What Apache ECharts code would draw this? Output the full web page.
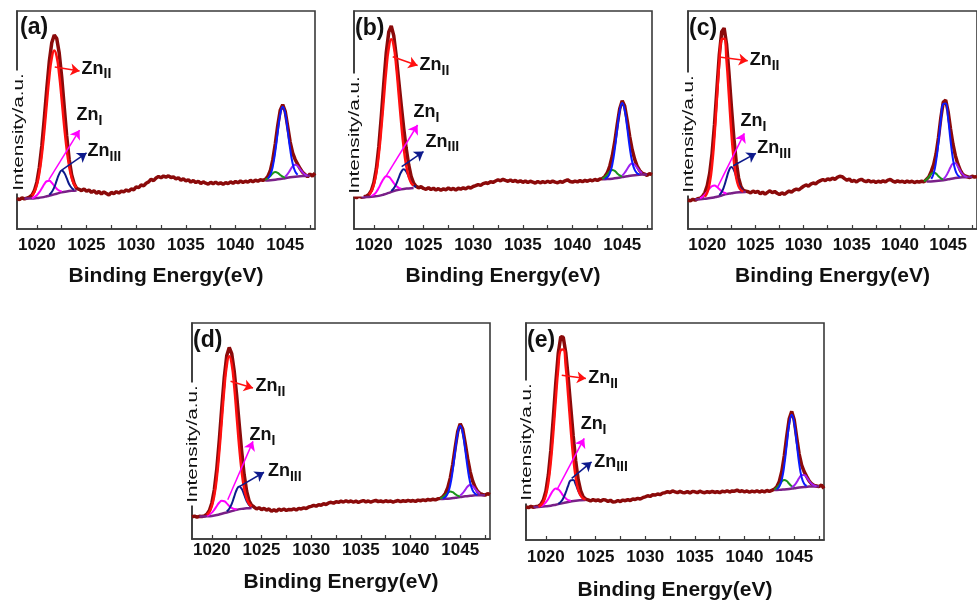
<!DOCTYPE html>
<html><head><meta charset="utf-8">
<script src="https://cdn.jsdelivr.net/npm/echarts/dist/echarts.min.js"></script>
<style>html,body{margin:0;padding:0;background:#fff}#c{width:977px;height:602px}</style>
</head><body><div id="c"></div><script>
// ---------- shared x values (Binding Energy, eV) ----------
const energy = [
1018,1018.25,1018.5,1018.75, 1019,1019.25,1019.5,1019.75, 1020,1020.25,1020.5,1020.75,
1021,1021.25,1021.5,1021.75, 1022,1022.25,1022.5,1022.75, 1023,1023.25,1023.5,1023.75,
1024,1024.25,1024.5,1024.75, 1025,1025.25,1025.5,1025.75, 1026,1026.25,1026.5,1026.75,
1027,1027.25,1027.5,1027.75, 1028,1028.25,1028.5,1028.75, 1029,1029.25,1029.5,1029.75,
1030,1030.25,1030.5,1030.75, 1031,1031.25,1031.5,1031.75, 1032,1032.25,1032.5,1032.75,
1033,1033.25,1033.5,1033.75, 1034,1034.25,1034.5,1034.75, 1035,1035.25,1035.5,1035.75,
1036,1036.25,1036.5,1036.75, 1037,1037.25,1037.5,1037.75, 1038,1038.25,1038.5,1038.75,
1039,1039.25,1039.5,1039.75, 1040,1040.25,1040.5,1040.75, 1041,1041.25,1041.5,1041.75,
1042,1042.25,1042.5,1042.75, 1043,1043.25,1043.5,1043.75, 1044,1044.25,1044.5,1044.75,
1045,1045.25,1045.5,1045.75, 1046,1046.25,1046.5,1046.75, 1047,1047.25,1047.5,1047.75, 1048];
const xLabels = [1020,1025,1030,1035,1040,1045];
const xTicks = [1020,1022.5,1025,1027.5,1030,1032.5,1035,1037.5,1040,1042.5,1045,1047.5];
const panelNames = ['(a)','(b)','(c)','(d)','(e)'];

// ---------- measured spectra (intensity, a.u.) ----------
const rawA = [14.0,13.5,14.3,13.8, 14.2,14.6,15.5,17.6, 21.5,28.3,38.2,50.8, 64.4,76.8,85.4,89.0, 87.4,80.7,69.8,56.2,
42.8,32.0,24.9,20.9, 18.6,18.2,17.6,18.4, 17.3,17.9,16.8,17.5, 16.4,17.2,16.1,17.0, 16.3,15.6,16.8,16.2,
17.1,16.5,17.4,17.0, 17.9,17.3,18.4,18.0, 19.3,19.0,20.2,19.8, 21.0,21.6,22.8,22.2, 23.4,24.1,23.5,24.3,
23.8,24.4,23.6,23.9, 23.0,23.5,22.4,23.0, 22.1,22.6,21.5,22.2, 21.3,21.9,20.9,21.6, 21.0,20.6,21.4,20.8,
21.5,20.7,21.2,20.5, 21.3,20.8,21.6,21.0, 21.8,21.2,22.0,21.4, 21.9,21.5,22.3,21.7, 22.4,21.9,22.6,22.3,
22.8,24.1,26.7,31.7, 39.0,47.5,54.5,57.0, 54.0,47.0,39.9,34.9, 31.9,29.75,27.7,26.05, 25.0,24.0,25.2,24.3, 25.6];
const rawB = [14.9,14.4,15.0,14.6, 14.8,15.1,15.9,17.7, 21.3,27.7,37.9,51.7, 66.9,81.0,90.4,93.1, 88.7,79.4,68.2,57.0,
46.4,37.1,29.6,24.1, 21.0,19.6,18.9,19.4, 18.6,18.2,18.9,18.1, 18.7,17.9,18.5,17.8, 18.4,18.0,18.8,18.1,
18.6,17.9,18.7,18.3, 18.9,18.4,19.2,18.8, 19.5,19.9,20.4,20.0, 20.8,21.2,20.9,21.7, 21.4,22.0,22.6,22.1,
22.8,22.3,21.9,22.5, 21.8,22.3,21.6,22.1, 21.4,22.0,21.3,21.9, 21.5,21.1,21.8,21.2, 21.7,21.3,21.9,21.4,
22.0,21.5,21.2,21.8, 21.4,22.1,22.6,21.8, 21.5,22.0,21.6,22.2, 21.7,22.3,21.9,22.5, 22.1,22.7,22.3,22.9,
23.1,24.05,25.8,28.9, 33.5,39.95,47.9,55.2, 58.8,56.4,49.9,42.55, 36.45,32.05,28.9,26.9, 25.65,25.2,24.6,25.4, 24.9];
const rawC = [13.3,12.9,13.6,13.2, 13.9,14.1,14.95,16.7, 19.9,25.5,34.7,47.95, 64.1,80.0,90.5,92.15, 84.9,71.6,56.4,42.2,
30.95,23.45,19.4,17.7, 17.4,17.1,16.6,17.4, 16.8,17.3,16.2,16.9, 16.0,16.8,17.5,16.7, 17.2,16.4,15.8,16.6,
15.9,16.7,17.4,16.9, 17.8,18.3,17.9,18.8, 19.6,20.2,19.7,20.6, 21.1,20.7,21.6,22.2, 22.7,22.2,23.0,22.6,
23.3,22.8,23.7,24.2, 24.0,23.1,22.4,22.9, 21.8,22.3,21.6,22.4, 22.8,22.1,21.7,22.3, 21.6,22.0,21.4,21.9,
21.5,22.1,21.6,22.4, 22.7,22.0,21.5,22.1, 21.6,21.9,21.4,22.0, 21.5,21.9,21.3,21.8, 21.5,21.9,21.6,22.75,
23.9,26.4,29.5,34.4, 41.9,51.15,58.25,59.1, 53.9,46.0,39.0,33.75, 29.95,27.1,25.2,24.3, 23.95,23.6,24.2,23.8, 24.1];
const rawD = [10.2,10.6,10.1,10.5, 10.4,10.7,11.5,13.2, 16.7,22.9,32.7,45.9, 60.9,74.9,85.0,88.7, 85.8,77.7,66.3,53.25,
40.65,29.8,22.1,17.6, 15.6,14.8,13.9,14.5, 13.6,14.2,13.4,13.9, 12.8,13.5,12.9,13.8, 13.3,13.9,13.2,13.7,
13.5,14.0,13.4,14.2, 13.9,14.4,14.1,14.8, 15.1,15.6,15.2,15.9, 15.6,16.3,16.0,16.7, 17.0,16.6,17.3,17.0,
17.5,17.1,17.7,17.2, 17.6,17.1,17.5,17.0, 17.4,17.8,17.2,17.6, 17.1,17.5,17.9,17.3, 17.6,17.2,17.7,17.3,
17.6,17.1,17.5,17.8, 17.3,17.7,17.4,17.9, 17.5,17.8,17.4,18.0, 17.7,18.1,17.8,18.3, 18.0,18.4,18.1,18.6,
18.8,19.55,21.1,23.8, 28.2,34.55,42.5,49.75, 53.4,50.9,44.45,37.2, 31.2,26.9,24.0,22.05, 21.0,20.6,20.3,21.0, 20.5];
const rawE = [15.3,14.9,15.5,15.1, 15.4,15.55,16.4,18.45, 22.5,29.9,41.4,56.4, 72.45,86.2,93.65,93.4, 86.4,74.65,61.3,48.05,
36.55,27.9,22.7,19.95, 18.85,18.5,18.0,18.6, 18.1,18.5,17.9,18.6, 18.4,17.8,18.3,17.5, 17.6,18.2,17.7,18.4,
18.1,18.6,18.2,18.9, 18.7,19.2,18.9,19.5, 19.9,20.4,20.1,20.8, 20.7,21.2,20.9,21.6, 21.8,22.3,21.9,22.6,
22.2,21.8,22.4,21.9, 21.8,22.3,21.7,22.4, 22.2,21.8,22.5,22.0, 21.8,22.3,21.9,22.4, 21.9,22.3,21.8,22.5,
22.2,22.7,22.1,22.6, 22.5,23.0,22.3,22.7, 22.2,22.6,22.0,22.5, 22.2,22.7,22.1,22.6, 22.2,22.8,22.4,22.9,
23.4,24.5,26.95,31.6, 38.75,47.8,55.9,59.25, 55.45,47.25,39.6,34.5, 31.5,29.3,27.25,25.9, 25.16,24.9,24.6,25.3, 23.8];

// ---------- fitted components [eV, intensity] ----------
const a_bg1 = [[1018.75,14.0],[1019,14.0],[1019.5,14.0],[1020,14.2],[1020.5,14.5],[1021,15.0],[1021.5,15.6],[1022,16.2],[1022.5,16.8],[1023,17.2],[1023.5,17.5],[1024,17.7]];
const a_ZnII = [[1019.5,15.3],[1019.75,17.0],[1020,20.2],[1020.25,25.7],[1020.5,34.0],[1020.75,44.9],[1021,57.5],[1021.25,69.6],[1021.5,78.4],[1021.75,81.9],[1022,79.0],[1022.25,70.8],[1022.5,59.3],[1022.75,47.2],[1023,36.7],[1023.25,28.8],[1023.5,23.5],[1023.75,20.5],[1024,19.0]];
const a_ZnI = [[1019.5,14.2],[1019.75,14.65],[1020,15.5],[1020.25,16.9],[1020.5,18.7],[1020.75,20.6],[1021,21.9],[1021.25,22.1],[1021.5,21.2],[1021.75,19.8],[1022,18.5],[1022.25,17.6],[1022.5,17.3]];
const a_ZnIII = [[1021.25,15.7],[1021.5,16.95],[1021.75,19.1],[1022,22.3],[1022.25,25.3],[1022.5,26.8],[1022.75,25.8],[1023,23.3],[1023.25,20.55],[1023.5,18.85],[1023.75,18.0]];
const a_bg2 = [[1043,22.3],[1043.5,22.4],[1044,22.6],[1044.5,22.9],[1045,23.3],[1045.5,23.7],[1046,24.0],[1046.5,24.2],[1047,24.3],[1047.5,24.4]];
const a_p2 = [[1043.25,23.15],[1043.5,24.8],[1043.75,28.7],[1044,35.5],[1044.25,44.45],[1044.5,52.6],[1044.75,56.1],[1045,53.0],[1045.25,45.2],[1045.5,36.6],[1045.75,30.05],[1046,26.4],[1046.25,24.9]];
const a_g2 = [[1043,22.6],[1043.25,23.25],[1043.5,24.3],[1043.75,25.5],[1044,26.1],[1044.25,25.75],[1044.5,24.8],[1044.75,24.0],[1045,23.6]];
const a_v2 = [[1045,24.0],[1045.25,25.3],[1045.5,27.0],[1045.75,28.7],[1046,29.5],[1046.25,28.95],[1046.5,27.5],[1046.75,26.05],[1047,25.0],[1047.25,24.55]];

const b_bg1 = [[1018.75,14.6],[1019,14.6],[1019.5,14.7],[1020,14.9],[1020.5,15.2],[1021,15.8],[1021.5,16.6],[1022,17.4],[1022.5,18.0],[1023,18.4],[1023.5,18.6],[1024,18.8]];
const b_ZnII = [[1019.5,15.8],[1019.75,17.3],[1020,20.4],[1020.25,25.7],[1020.5,34.2],[1020.75,46.0],[1021,59.6],[1021.25,73.0],[1021.5,83.0],[1021.75,87.0],[1022,83.8],[1022.25,74.5],[1022.5,61.8],[1022.75,48.7],[1023,37.4],[1023.25,29.2],[1023.5,24.1],[1023.75,21.2],[1024,19.9]];
const b_ZnI = [[1019.75,15.2],[1020,15.8],[1020.25,17.0],[1020.5,18.9],[1020.75,21.2],[1021,23.1],[1021.25,24.2],[1021.5,23.9],[1021.75,22.7],[1022,21.1],[1022.25,19.7],[1022.5,18.9],[1022.75,18.55]];
const b_ZnIII = [[1021.75,17.4],[1022,18.6],[1022.25,20.6],[1022.5,23.5],[1022.75,26.1],[1023,27.4],[1023.25,26.4],[1023.5,24.1],[1023.75,21.6],[1024,20.0],[1024.25,19.25]];
const b_bg2 = [[1043,22.8],[1043.5,22.9],[1044,23.1],[1044.5,23.4],[1045,23.8],[1045.5,24.2],[1046,24.55],[1046.5,24.8],[1047,24.95],[1047.5,25.0]];
const b_p2 = [[1043.25,23.05],[1043.5,23.7],[1043.75,25.5],[1044,29.5],[1044.25,36.55],[1044.5,45.8],[1044.75,54.2],[1045,57.8],[1045.25,54.6],[1045.5,46.6],[1045.75,37.7],[1046,30.95],[1046.25,27.2],[1046.5,25.6],[1046.75,25.1]];
const b_g2 = [[1043,23.1],[1043.25,23.85],[1043.5,25.0],[1043.75,26.4],[1044,27.1],[1044.25,26.65],[1044.5,25.5],[1044.75,24.6],[1045,24.1]];
const b_v2 = [[1045,24.5],[1045.25,25.8],[1045.5,27.5],[1045.75,29.25],[1046,30.05],[1046.25,29.55],[1046.5,28.1],[1046.75,26.7],[1047,25.65]];

const c_bg1 = [[1018.75,13.5],[1019,13.6],[1019.5,13.8],[1020,14.0],[1020.5,14.3],[1021,14.8],[1021.5,15.4],[1022,16.0],[1022.5,16.4],[1023,16.75],[1023.5,16.9],[1024,17.0]];
const c_ZnII = [[1019.75,14.8],[1020,16.7],[1020.25,21.0],[1020.5,29.3],[1020.75,42.55],[1021,59.6],[1021.25,76.3],[1021.5,87.0],[1021.75,87.3],[1022,77.2],[1022.25,61.0],[1022.5,44.4],[1022.75,31.6],[1023,23.65],[1023.25,19.55],[1023.5,17.8],[1023.75,17.2]];
const c_ZnI = [[1019.25,14.1],[1019.5,14.75],[1019.75,15.8],[1020,17.2],[1020.25,18.6],[1020.5,19.7],[1020.75,19.95],[1021,19.3],[1021.25,18.3],[1021.5,17.3],[1021.75,16.65],[1022,16.4]];
const c_ZnIII = [[1021.25,15.6],[1021.5,17.0],[1021.75,19.6],[1022,23.3],[1022.25,26.8],[1022.5,28.4],[1022.75,27.2],[1023,24.05],[1023.25,20.75],[1023.5,18.5],[1023.75,17.45]];
const c_bg2 = [[1042.75,21.75],[1043,21.8],[1043.5,21.9],[1044,22.1],[1044.5,22.4],[1045,22.8],[1045.5,23.2],[1046,23.5],[1046.5,23.7],[1047,23.8],[1047.5,23.9]];
const c_p2 = [[1043.25,23.0],[1043.5,25.5],[1043.75,31.0],[1044,39.8],[1044.25,50.15],[1044.5,57.4],[1044.75,57.6],[1045,50.7],[1045.25,40.7],[1045.5,32.2],[1045.75,26.95],[1046,24.65],[1046.25,23.9]];
const c_g2 = [[1042.5,21.8],[1042.75,22.75],[1043,23.9],[1043.25,25.25],[1043.5,25.9],[1043.75,25.4],[1044,24.2],[1044.25,23.25],[1044.5,22.7]];
const c_v2 = [[1044.5,22.95],[1044.75,24.1],[1045,26.0],[1045.25,28.3],[1045.5,30.0],[1045.75,30.15],[1046,28.8],[1046.25,26.8],[1046.5,25.2],[1046.75,24.3],[1047,23.95]];

const d_bg1 = [[1018.75,10.4],[1019,10.4],[1019.5,10.5],[1020,10.7],[1020.5,11.1],[1021,11.7],[1021.5,12.3],[1022,12.9],[1022.5,13.5],[1023,13.95],[1023.5,14.2],[1024,14.4]];
const d_ZnII = [[1019.5,11.2],[1019.75,12.5],[1020,15.2],[1020.25,20.2],[1020.5,28.5],[1020.75,40.4],[1021,54.9],[1021.25,69.4],[1021.5,80.3],[1021.75,84.6],[1022,80.9],[1022.25,70.6],[1022.5,56.7],[1022.75,42.75],[1023,31.35],[1023.25,23.4],[1023.5,18.7],[1023.75,16.2],[1024,15.1]];
const d_ZnI = [[1019.5,10.8],[1019.75,11.3],[1020,12.2],[1020.25,13.6],[1020.5,15.3],[1020.75,16.9],[1021,17.7],[1021.25,17.5],[1021.5,16.5],[1021.75,15.3],[1022,14.4],[1022.25,13.9],[1022.5,13.8]];
const d_ZnIII = [[1021.5,12.8],[1021.75,14.0],[1022,16.3],[1022.25,19.6],[1022.5,22.8],[1022.75,24.25],[1023,23.25],[1023.25,20.5],[1023.5,17.6],[1023.75,15.7],[1024,14.9]];
const d_bg2 = [[1043,18.5],[1043.5,18.6],[1044,18.8],[1044.5,19.1],[1045,19.4],[1045.5,19.75],[1046,20.0],[1046.5,20.2],[1047,20.3],[1047.5,20.3]];
const d_p2 = [[1043.25,18.75],[1043.5,19.4],[1043.75,21.1],[1044,25.0],[1044.25,31.85],[1044.5,40.8],[1044.75,48.95],[1045,52.4],[1045.25,49.3],[1045.5,41.45],[1045.75,32.8],[1046,26.2],[1046.25,22.5],[1046.5,21.0],[1046.75,20.45]];
const d_g2 = [[1043,18.75],[1043.25,19.35],[1043.5,20.3],[1043.75,21.4],[1044,22.0],[1044.25,21.65],[1044.5,20.8],[1044.75,20.05],[1045,19.65]];
const d_v2 = [[1045,20.1],[1045.25,21.2],[1045.5,22.75],[1045.75,24.3],[1046,25.0],[1046.25,24.5],[1046.5,23.2],[1046.75,21.85],[1047,21.0]];

const e_bg1 = [[1018.75,15.1],[1019,15.2],[1019.5,15.3],[1020,15.5],[1020.5,15.8],[1021,16.25],[1021.5,16.75],[1022,17.3],[1022.5,17.75],[1023,18.1],[1023.5,18.3],[1024,18.4]];
const e_ZnII = [[1019.25,15.45],[1019.5,16.1],[1019.75,17.6],[1020,20.6],[1020.25,26.5],[1020.5,36.1],[1020.75,49.5],[1021,64.95],[1021.25,79.1],[1021.5,87.55],[1021.75,87.8],[1022,79.9],[1022.25,66.25],[1022.5,51.25],[1022.75,38.25],[1023,29.0],[1023.25,23.3],[1023.5,20.5],[1023.75,19.15],[1024,18.65]];
const e_ZnI = [[1019.5,15.6],[1019.75,16.3],[1020,17.4],[1020.25,19.0],[1020.5,21.1],[1020.75,22.9],[1021,23.75],[1021.25,23.4],[1021.5,22.05],[1021.75,20.4],[1022,19.2],[1022.25,18.4],[1022.5,18.1]];
const e_ZnIII = [[1021.25,16.7],[1021.5,17.55],[1021.75,19.2],[1022,21.9],[1022.25,25.1],[1022.5,27.45],[1022.75,27.65],[1023,25.65],[1023.25,22.8],[1023.5,20.5],[1023.75,19.15],[1024,18.6]];
const e_bg2 = [[1043,23.0],[1043.5,23.1],[1044,23.3],[1044.5,23.55],[1045,23.85],[1045.5,24.15],[1046,24.4],[1046.5,24.6],[1047,24.7],[1047.5,24.8]];
const e_p2 = [[1043.25,23.45],[1043.5,24.6],[1043.75,27.8],[1044,34.35],[1044.25,44.0],[1044.5,53.55],[1044.75,57.7],[1045,53.85],[1045.25,44.6],[1045.5,35.2],[1045.75,28.9],[1046,25.9],[1046.25,24.9]];
const e_g2 = [[1043,23.36],[1043.25,24.13],[1043.5,25.45],[1043.75,26.96],[1044,27.7],[1044.25,27.16],[1044.5,25.9],[1044.75,24.78],[1045,24.2]];
const e_v2 = [[1044.75,24.16],[1045,25.1],[1045.25,26.65],[1045.5,28.55],[1045.75,29.9],[1046,30.0],[1046.25,28.9],[1046.5,27.25],[1046.75,25.9],[1047,25.16],[1047.25,24.9]];

// ---------- annotation arrows: [fromE, fromI, toE, toI, labelE, labelI] for Zn_II, Zn_I, Zn_III ----------
const a_tags = [[1021.8,74.3,1024.3,72.5,1024.5,72],[1021.2,22.5,1024.3,45.4,1024.0,50.5],[1022.5,27,1025.0,34.9,1025.1,34]];
const b_tags = [[1021.9,79,1024.4,75,1024.6,73.4],[1021.2,24,1024.4,47.7,1024.0,52],[1022.8,28.6,1025.0,35.5,1025.2,38.5]];
const c_tags = [[1021.43,78.8,1024.2,77.2,1024.4,76],[1021.1,19.4,1023.85,43.9,1023.45,47.7],[1022.7,29,1025.05,34.7,1025.2,35.5]];
const d_tags = [[1021.88,73,1024.14,69.9,1024.4,69],[1021.6,18.2,1024.14,45.2,1023.8,46.5],[1022.8,24.4,1025.25,30.9,1025.65,29.8]];
const e_tags = [[1021.6,75.9,1024.03,74.4,1024.26,72.9],[1021.1,23,1023.86,46.8,1023.5,52],[1022.6,28.4,1024.6,36,1024.87,34.5]];

// ---------- layout (pixels) ----------
const layout = [
  {left:17,  top:11,  width:298, height:218, margin:8, gap:37, ylab:[19,132],  plab:[20,28]},
  {left:354, top:11,  width:298, height:218, margin:8, gap:37, ylab:[355,135], plab:[355,29]},
  {left:688, top:11,  width:300, height:218, margin:8, gap:37, ylab:[689,134], plab:[689,29]},
  {left:192, top:323, width:298, height:216, margin:3, gap:33, ylab:[193,444], plab:[193,341]},
  {left:526, top:323, width:298, height:217, margin:9, gap:40, ylab:[527,442], plab:[527,341]}
];
const panels = [
  {raw:rawA, bg1:a_bg1, ZnII:a_ZnII, ZnI:a_ZnI, ZnIII:a_ZnIII, bg2:a_bg2, p2:a_p2, g2:a_g2, v2:a_v2, tags:a_tags},
  {raw:rawB, bg1:b_bg1, ZnII:b_ZnII, ZnI:b_ZnI, ZnIII:b_ZnIII, bg2:b_bg2, p2:b_p2, g2:b_g2, v2:b_v2, tags:b_tags},
  {raw:rawC, bg1:c_bg1, ZnII:c_ZnII, ZnI:c_ZnI, ZnIII:c_ZnIII, bg2:c_bg2, p2:c_p2, g2:c_g2, v2:c_v2, tags:c_tags},
  {raw:rawD, bg1:d_bg1, ZnII:d_ZnII, ZnI:d_ZnI, ZnIII:d_ZnIII, bg2:d_bg2, p2:d_p2, g2:d_g2, v2:d_v2, tags:d_tags},
  {raw:rawE, bg1:e_bg1, ZnII:e_ZnII, ZnI:e_ZnI, ZnIII:e_ZnIII, bg2:e_bg2, p2:e_p2, g2:e_g2, v2:e_v2, tags:e_tags}
];

const FONT = '"Liberation Sans", Arial, sans-serif';
const C = {raw:'#8b0a0a', red:'#ff1010', mag:'#ff00ff', navy:'#0d1a8c', bg:'#7a2088', blue:'#0a1aff', green:'#1a961a', violet:'#a020f0'};
const rich = {
  m:{fontSize:18, fontWeight:'bold', color:'#111', fontFamily:FONT, lineHeight:19, verticalAlign:'bottom', padding:[0,0,4,0]},
  s:{fontSize:14, fontWeight:'bold', color:'#111', fontFamily:FONT, lineHeight:15, verticalAlign:'bottom'}
};

function line(i, data, color, width, z, smooth) {
  return {type:'line', xAxisIndex:i, yAxisIndex:i, data:data, symbol:'none', showSymbol:false,
    smooth:smooth, lineStyle:{color:color, width:width}, itemStyle:{color:color}, z:z, silent:true, animation:false};
}
function tagged(s, tag, sub, color) {
  s.markLine = {silent:true, animation:false, symbol:['none','arrow'], symbolSize:9,
    lineStyle:{color:color, width:1.5, type:'solid'}, itemStyle:{color:color}, label:{show:false}, emphasis:{disabled:true},
    data:[[{coord:[tag[0],tag[1]]},{coord:[tag[2],tag[3]]}]]};
  s.markPoint = {silent:true, animation:false, symbol:'circle', symbolSize:0,
    label:{show:true, position:'right', distance:0, formatter:'{m|Zn}{s|' + sub + '}', rich:rich},
    data:[{coord:[tag[4],tag[5]], value:0}]};
  return s;
}

const grid = [], xAxis = [], yAxis = [], series = [], graphic = [];
layout.forEach(function(L, i){
  grid.push({left:L.left, top:L.top, width:L.width, height:L.height, show:true, borderColor:'#3a3a3a', borderWidth:1.6, containLabel:false});
  xAxis.push({type:'value', gridIndex:i, min:1018, max:1048,
    axisLine:{show:true, lineStyle:{color:'#3a3a3a', width:1.6}},
    axisTick:{show:true, inside:true, length:4, customValues:xTicks, lineStyle:{color:'#3a3a3a', width:1.2}},
    axisLabel:{customValues:xLabels, formatter:function(v){return String(v);}, fontSize:17, fontWeight:'bold', color:'#111', fontFamily:FONT, margin:L.margin},
    splitLine:{show:false},
    name:'Binding Energy(eV)', nameLocation:'middle', nameGap:L.gap,
    nameTextStyle:{fontSize:21, fontWeight:'bold', color:'#111', fontFamily:FONT}});
  yAxis.push({type:'value', gridIndex:i, min:0, max:100,
    axisLine:{show:true, lineStyle:{color:'#3a3a3a', width:1.6}},
    axisTick:{show:false}, axisLabel:{show:false}, splitLine:{show:false}});
  const P = panels[i];
  series.push(line(i, energy.map(function(e,k){return [e, P.raw[k]];}), C.raw, 3.5, 2, false));
  series.push(line(i, P.bg1, C.bg, 2.5, 3, true));
  series.push(tagged(line(i, P.ZnI, C.mag, 2, 4, true), P.tags[1], 'I', C.mag));
  series.push(tagged(line(i, P.ZnIII, C.navy, 2, 4, true), P.tags[2], 'III', C.navy));
  series.push(tagged(line(i, P.ZnII, C.red, 2.5, 4, true), P.tags[0], 'II', C.red));
  series.push(line(i, P.bg2, C.bg, 2.5, 3, true));
  series.push(line(i, P.g2, C.green, 2, 4, true));
  series.push(line(i, P.v2, C.violet, 2, 4, true));
  series.push(line(i, P.p2, C.blue, 2, 4, true));
  graphic.push({type:'text', x:L.ylab[0], y:L.ylab[1], rotation:Math.PI/2, scaleX:1.38, z:100,
    style:{text:'Intensity/a.u.', font:'15px ' + FONT, fill:'#111', align:'center', verticalAlign:'middle',
      textAlign:'center', textVerticalAlign:'middle', backgroundColor:'#fff', padding:[1,2]}});
  graphic.push({type:'text', x:L.plab[0], y:L.plab[1], z:100,
    style:{text:panelNames[i], font:'bold 23px ' + FONT, fill:'#111', align:'left', verticalAlign:'middle',
      textAlign:'left', textVerticalAlign:'middle'}});
});

const chart = echarts.init(document.getElementById('c'), null, {renderer:'canvas'});
chart.setOption({
  backgroundColor:'#fff', animation:false,
  textStyle:{fontFamily:FONT},
  grid:grid, xAxis:xAxis, yAxis:yAxis, series:series, graphic:graphic
});
</script></body></html>
